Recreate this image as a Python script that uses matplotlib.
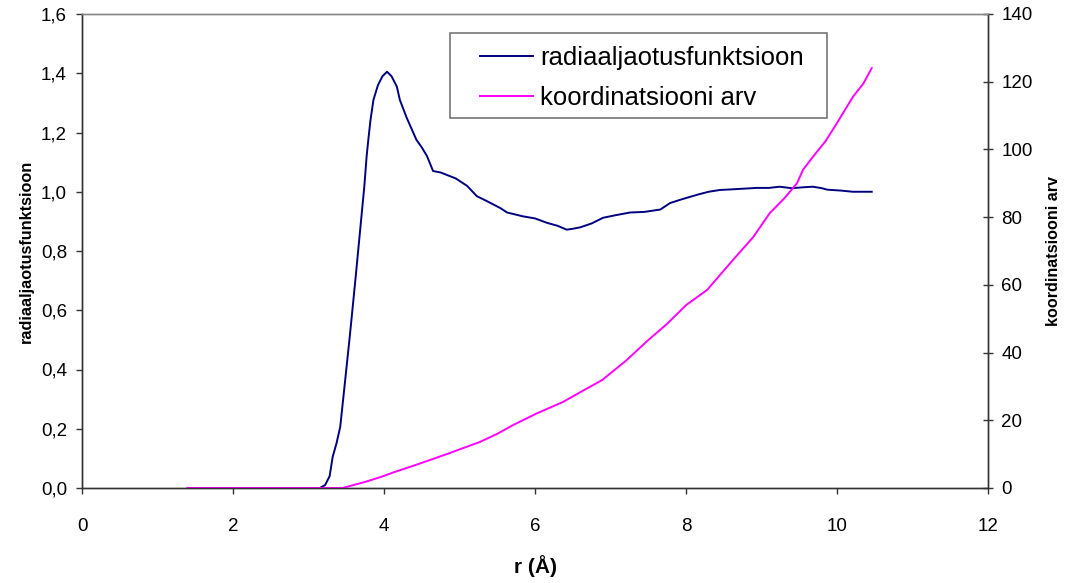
import matplotlib
matplotlib.use("Agg")
import matplotlib.pyplot as plt
from matplotlib.patches import Rectangle

plt.rcParams['font.family'] = ['Liberation Sans', 'DejaVu Sans']

# radiaaljaotusfunktsioon g(r)
r_g = [1.40, 2.0, 2.5, 3.0, 3.15, 3.22, 3.28, 3.32, 3.37, 3.42, 3.48, 3.55, 3.62, 3.68,
       3.74, 3.77, 3.79, 3.82, 3.86, 3.92, 3.98, 4.04, 4.10, 4.17, 4.21, 4.30, 4.43,
       4.50, 4.57, 4.65, 4.75, 4.83, 4.95, 5.10, 5.23, 5.35, 5.54, 5.63, 5.84, 6.00,
       6.16, 6.30, 6.42, 6.50, 6.60, 6.75, 6.90, 7.05, 7.26, 7.45, 7.66, 7.79, 7.95,
       8.15, 8.30, 8.45, 8.60, 8.94, 9.10, 9.24, 9.40, 9.55, 9.68, 9.80, 9.87, 10.05,
       10.21, 10.46]
g = [0.0, 0.0, 0.0, 0.0, 0.0, 0.01, 0.04, 0.105, 0.15, 0.206, 0.35, 0.52, 0.70, 0.86,
     1.02, 1.12, 1.17, 1.24, 1.31, 1.36, 1.39, 1.405, 1.39, 1.355, 1.31, 1.25, 1.175,
     1.15, 1.12, 1.07, 1.065, 1.057, 1.045, 1.02, 0.985, 0.97, 0.945, 0.93, 0.917,
     0.91, 0.895, 0.885, 0.872, 0.875, 0.88, 0.893, 0.912, 0.92, 0.93, 0.932, 0.94,
     0.962, 0.975, 0.99, 1.0, 1.006, 1.008, 1.013, 1.013, 1.017, 1.012, 1.015,
     1.017, 1.012, 1.007, 1.004, 1.0, 1.0]

# koordinatsiooni arv n(r)
r_n = [1.40, 2.0, 2.5, 3.0, 3.45, 3.55, 3.75, 3.95, 4.15, 4.38, 4.60, 4.83, 5.05,
       5.27, 5.50, 5.71, 6.03, 6.37, 6.60, 6.89, 7.20, 7.50, 7.75, 8.00, 8.28, 8.62,
       8.89, 9.11, 9.30, 9.47, 9.55, 9.68, 9.85, 10.00, 10.21, 10.35, 10.46]
n = [0.0, 0.0, 0.0, 0.0, 0.0, 0.6, 1.8, 3.2, 4.8, 6.5, 8.2, 10.0, 11.8, 13.6, 16.0,
     18.6, 22.1, 25.4, 28.3, 31.9, 37.5, 43.7, 48.5, 54.0, 58.5, 67.3, 74.1, 81.2,
     85.5, 90.0, 94.0, 97.8, 102.5, 107.8, 115.5, 119.5, 124.0]

xticks = [0, 2, 4, 6, 8, 10, 12]
yticks_left = [0.0, 0.2, 0.4, 0.6, 0.8, 1.0, 1.2, 1.4, 1.6]
yticks_right = [0, 20, 40, 60, 80, 100, 120, 140]

W, H = 1067, 583
fig = plt.figure(figsize=(W / 100, H / 100), dpi=100)
ax = fig.add_axes([82 / W, 1 - 488 / H, 906 / W, 474 / H])
ax2 = ax.twinx()

l1, = ax.plot(r_g, g, color='#000080', lw=1.4, label='radiaaljaotusfunktsioon')
l2, = ax2.plot(r_n, n, color='#FF00FF', lw=1.4, label='koordinatsiooni arv')

ax.set_xlim(0, 12)
ax.set_ylim(0, 1.6)
ax2.set_ylim(0, 140)
ax.set_xticks(xticks)
ax.set_xticklabels([str(t) for t in xticks])
ax.set_yticks(yticks_left)
ax.set_yticklabels([f'{t:.1f}'.replace('.', ',') for t in yticks_left])
ax2.set_yticks(yticks_right)
ax2.set_yticklabels([str(t) for t in yticks_right])

for a in (ax, ax2):
    for s in a.spines.values():
        s.set_color('#333333')
        s.set_linewidth(1.0)
    a.spines['top'].set_color('#888888')
ax.tick_params(axis='y', labelsize=13.5, length=4.3, width=1, color='#333333', pad=6.5)
ax.tick_params(axis='x', labelsize=13.5, length=4.3, width=1, color='#333333', pad=17)
ax2.tick_params(axis='y', labelsize=13.5, length=7, width=1, color='#333333',
                direction='inout', pad=6)

narrow = ['Liberation Sans Narrow', 'Liberation Sans', 'DejaVu Sans']
ax.set_xlabel('r (Å)', fontsize=15, fontweight='bold', labelpad=15)
ax.set_ylabel('radiaaljaotusfunktsioon', fontsize=11.7, fontweight='bold',
              family=narrow, labelpad=5)
ax2.set_ylabel('koordinatsiooni arv', fontsize=11.6, fontweight='bold',
               family=narrow, labelpad=10)

frame = Rectangle((450 / W, 1 - 118 / H), 377 / W, 85 / H, transform=fig.transFigure,
                  facecolor='white', edgecolor='#777777', lw=1.2, zorder=4)
ax2.add_artist(frame)
leg = ax2.legend(handles=[l1, l2], loc='upper left',
                 bbox_to_anchor=((480 - 82) / 906, (488 - 46) / 474),
                 borderaxespad=0, borderpad=0, frameon=False, fontsize=18.5,
                 handlelength=2.05, handletextpad=0.28, labelspacing=0.62)
leg.set_zorder(6)

fig.savefig('out.png', dpi=100)
